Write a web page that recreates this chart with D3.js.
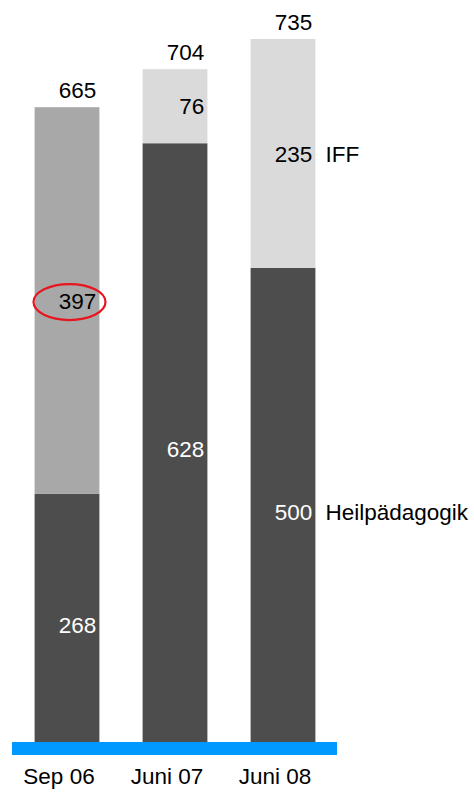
<!DOCTYPE html>
<html>
<head>
<meta charset="utf-8">
<script src="https://cdn.jsdelivr.net/npm/d3@7"></script>
<style>
  html, body { margin: 0; padding: 0; background: #fff; }
  svg { display: block; font-family: "Liberation Sans", Arial, sans-serif; }
</style>
</head>
<body>
<svg id="mainsvg" width="474" height="792"></svg>
<script>
// data
const categories = ["Sep 06", "Juni 07", "Juni 08"];
const heilValues = [268, 628, 500];   // Heilpädagogik
const iffValues = [397, 76, 235];     // IFF
const totals = [665, 704, 735];
const seriesNames = ["Heilpädagogik", "IFF"];

const svg = d3.select("#mainsvg");
const fontSize = 22.5;

// scales
const x = d3.scaleBand()
  .domain(categories)
  .range([13, 337])
  .paddingInner(0.4)
  .paddingOuter(0.2);

const y = d3.scaleLinear()
  .domain([0, 735])
  .range([755, 39]);

const rows = categories.map((c, i) => ({
  cat: c,
  heil: heilValues[i],
  iff: iffValues[i],
  total: totals[i]
}));

const stack = d3.stack().keys(["heil", "iff"]);
const layers = stack(rows);

// first bar's upper segment is medium grey, the others light grey
const segColor = (key, i) => {
  if (key === "heil") return "#4d4d4d";
  return i === 0 ? "#a8a8a8" : "#dadada";
};
const labelColor = (key) => key === "heil" ? "#ffffff" : "#000000";

// bars
layers.forEach(layer => {
  svg.append("g")
    .selectAll("rect")
    .data(layer)
    .join("rect")
    .attr("x", d => x(d.data.cat))
    .attr("width", x.bandwidth())
    .attr("y", d => y(d[1]))
    .attr("height", d => y(d[0]) - y(d[1]))
    .attr("fill", (d, i) => segColor(layer.key, i));
});

// blue baseline
svg.append("rect")
  .attr("x", x.range()[0] - 1)
  .attr("y", 742)
  .attr("width", x.range()[1] - x.range()[0] + 1)
  .attr("height", 13)
  .attr("fill", "#0099ff");

// segment value labels
layers.forEach(layer => {
  svg.append("g")
    .selectAll("text")
    .data(layer)
    .join("text")
    .attr("x", d => x(d.data.cat) + x.bandwidth() - 3)
    .attr("y", d => (y(d[0]) + y(d[1])) / 2)
    .attr("dy", "0.36em")
    .attr("text-anchor", "end")
    .attr("font-size", fontSize)
    .attr("fill", labelColor(layer.key))
    .text(d => d.data[layer.key]);
});

// totals
svg.append("g")
  .selectAll("text")
  .data(rows)
  .join("text")
  .attr("x", d => x(d.cat) + x.bandwidth() - 3)
  .attr("y", d => y(d.total) - 9)
  .attr("text-anchor", "end")
  .attr("font-size", fontSize)
  .attr("fill", "#000")
  .text(d => d.total);

// series names next to last bar
const last = layers.map(l => l[l.length - 1]);
svg.append("g")
  .selectAll("text")
  .data(last)
  .join("text")
  .attr("x", x(categories[categories.length - 1]) + x.bandwidth() + 10)
  .attr("y", d => (y(d[0]) + y(d[1])) / 2)
  .attr("dy", "0.36em")
  .attr("font-size", fontSize)
  .attr("fill", "#000")
  .text((d, i) => seriesNames[i]);

// category axis labels (sit a little left of bar centre)
svg.append("g")
  .selectAll("text")
  .data(categories)
  .join("text")
  .attr("x", d => x(d) + x.bandwidth() / 2 - 8)
  .attr("y", 784)
  .attr("text-anchor", "middle")
  .attr("font-size", fontSize)
  .attr("fill", "#000")
  .text(d => d);

// red highlight round the 397 label
const hi = layers[1][0];
svg.append("ellipse")
  .attr("cx", x(categories[0]) + x.bandwidth() / 2 + 2.5)
  .attr("cy", (y(hi[0]) + y(hi[1])) / 2 + 1.5)
  .attr("rx", 36)
  .attr("ry", 18)
  .attr("fill", "none")
  .attr("stroke", "#e8141e")
  .attr("stroke-width", 2.2);
</script>
</body>
</html>
